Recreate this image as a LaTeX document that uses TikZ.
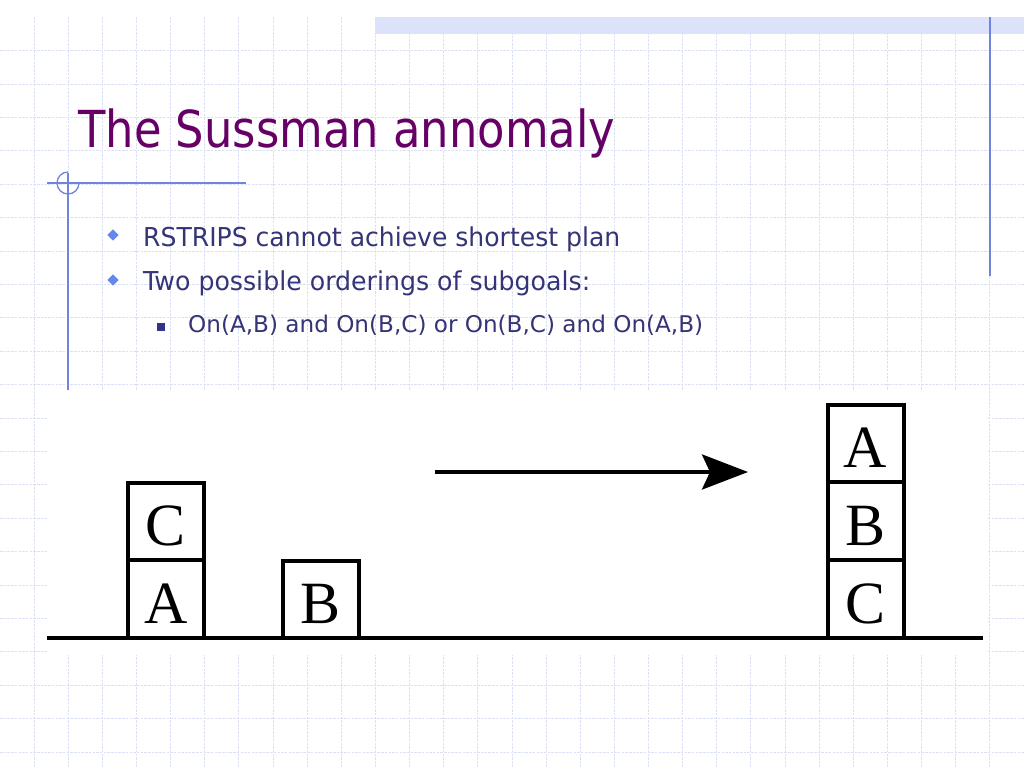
\documentclass[tikz,border=0pt]{standalone}
\usepackage{fontspec}
\setmainfont{DejaVu Sans}
\newfontfamily\blockfont{Liberation Serif}
\usetikzlibrary{arrows.meta,shapes.geometric}
\definecolor{gridc}{RGB}{220,224,246}
\definecolor{bandc}{RGB}{220,226,250}
\definecolor{decoc}{RGB}{112,132,222}
\definecolor{titlec}{RGB}{102,0,102}
\definecolor{textc}{RGB}{52,52,118}
\definecolor{bulc}{RGB}{100,136,236}
\definecolor{subbulc}{RGB}{51,51,140}
\newcommand\fitw[2]{\resizebox{#1}{\height}{#2}}
\begin{document}
\begin{tikzpicture}[x=1pt,y=-1pt,
  gridline/.style={draw=gridc,line width=1pt,dash pattern=on 2.5pt off 1.2pt},
  deco/.style={draw=decoc,line width=1.3pt},
  txt/.style={anchor=base west,inner sep=0pt,text=textc},
  blk/.style={draw=black,line width=4pt,minimum width=76pt,minimum height=77.5pt,
    inner sep=0pt,text height=48pt,text depth=0pt,
    font=\blockfont\fontsize{60}{60}\selectfont},
  bul/.style={diamond,fill=bulc,inner sep=0pt,minimum width=11.5pt,minimum height=11.5pt},
  subbul/.style={rectangle,fill=subbulc,inner sep=0pt,minimum size=7.5pt}]
\useasboundingbox (0,0) rectangle (1024,768);
\fill[white] (0,0) rectangle (1024,768);
% grid
\foreach \k in {1,...,29} \draw[gridline] ({34.133*\k},17.3) -- ({34.133*\k},768);
\foreach \k in {1,...,22} \draw[gridline] (0,{17.3+33.4*\k}) -- (1024,{17.3+33.4*\k});
% top band and right rule
\fill[bandc] (375,17.3) rectangle (1024,34);
\draw[draw=decoc,line width=1.6pt] (990,17.3) -- (990,276);
% left decoration
\draw[deco] (47,183) -- (246,183);
\draw[deco] (68,173) -- (68,390);
\draw[deco] (68,172) arc[start angle=270,end angle=0,radius=11];
% title and bullets
\node[anchor=base west,inner sep=0pt,text=titlec,font=\fontsize{51}{60}\selectfont]
  (title) at (78,147) {\fitw{537pt}{The Sussman annomaly}};
\node[bul] (b1) at (113,235) {};
\node[txt,font=\fontsize{26}{30}\selectfont] (t1) at (143,246)
  {\fitw{477pt}{RSTRIPS cannot achieve shortest plan}};
\node[bul] (b2) at (113,280) {};
\node[txt,font=\fontsize{26}{30}\selectfont] (t2) at (143,290)
  {\fitw{447pt}{Two possible orderings of subgoals:}};
\node[subbul] (b3) at (161,327) {};
\node[txt,font=\fontsize{23}{26}\selectfont] (t3) at (188,332)
  {\fitw{515pt}{On(A,B) and On(B,C) or On(B,C) and On(A,B)}};
% picture area
\fill[white] (47,390) rectangle (988,655);
\coordinate (g1) at (47,638);
\coordinate (g2) at (983,638);
\draw[line width=4pt] (g1) -- (g2);
\node[blk] (lA) at (166,599) {A};
\node[blk] (lC) at (166,521.5) {C};
\node[blk] (lB) at (321,599.5) {B};
\node[blk] (rC) at (865.5,599) {C};
\node[blk] (rB) at (865.5,521) {B};
\node[blk] (rA) at (865.5,443.3) {A};
\coordinate (a1) at (435,472);
\coordinate (a2) at (748,472);
\draw[line width=4pt,-{Stealth[length=46pt,width=35pt,inset=8pt]}] (a1) -- (a2);
\end{tikzpicture}
\end{document}
